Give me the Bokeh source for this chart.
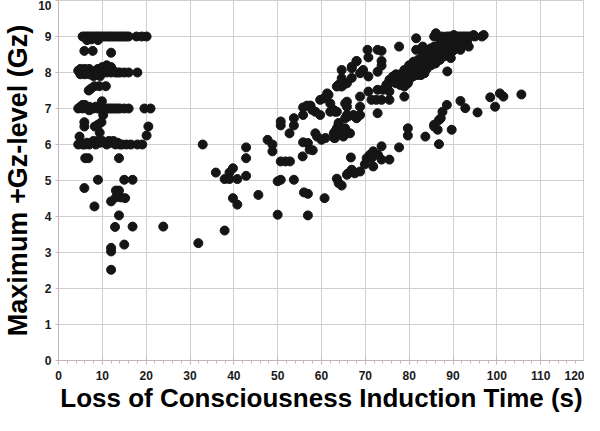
from bokeh.plotting import figure
from bokeh.models import FixedTicker
from bokeh.embed import file_html
from bokeh.resources import INLINE

# ---- data: (induction time s, max Gz level) ----
row_9 = [(5.5, 9), (6, 9), (6.5, 9), (7, 9), (7.5, 9), (8, 9), (8.5, 9), (9, 9), (9.5, 9),
         (10, 9), (10.5, 9), (11, 9), (11.5, 9), (12, 9), (12.5, 9), (13, 9), (13.5, 9),
         (14, 9), (14.5, 9), (15, 9), (15.5, 9), (16, 9), (17.8, 9), (19, 9), (20.1, 9),
         (6.5, 8.9), (7.5, 8.92), (9, 8.9)]
row_8 = [(5.9, 8.6), (7.8, 8.6), (12, 8.55),
         (4.5, 8.05), (5, 8.1), (5.5, 8.0), (6, 7.95), (6.5, 8.0), (7, 8.1), (7.5, 8.0),
         (8, 7.9), (8.5, 8.05), (9, 8.1), (9.5, 7.9), (10, 8.15), (10.5, 8.05), (11, 8.2),
         (11.5, 8.1), (12, 8.15), (12.5, 8.05), (13, 8.0), (13.5, 8.0), (14, 8.0), (15, 8.0),
         (16, 8.0), (18, 8.0), (5, 7.95), (6, 8.1), (9, 8.0), (10, 8.0), (11, 8.0), (12, 8.0),
         (7, 7.95), (6.9, 7.5), (7.4, 7.55), (8.2, 7.62), (9.3, 7.62), (10.8, 7.62), (9.9, 7.2)]
row_7 = [(4.5, 7), (5, 7.05), (5.5, 7), (6, 7.1), (6.5, 7), (7, 7.05), (7.5, 7), (8, 7),
         (8.5, 7.05), (9, 7), (9.5, 7), (10, 7), (10.5, 7), (11, 7), (11.5, 7), (12, 7),
         (12.5, 7), (13, 7), (13.5, 7), (14, 7), (15, 7), (16, 7), (19.6, 7), (21, 7),
         (5.5, 7.1), (7, 6.95),
         (5.9, 6.62), (5.9, 6.5), (8.3, 6.5), (9, 6.55), (9.8, 6.62), (10.2, 6.82),
         (9.4, 6.33), (4.8, 6.22), (20.5, 6.5), (20.1, 6.25)]
row_6 = [(4.5, 6), (5, 6.05), (5.5, 6), (6, 6), (6.5, 6.05), (7, 6), (7.5, 6.05), (8, 6.1),
         (8.5, 6), (9, 6.1), (9.5, 6.05), (10, 6.1), (10.5, 6.05), (11, 6), (11.5, 6.1),
         (12, 6.05), (12.5, 6.1), (13, 6), (13.5, 6.05), (14, 6), (14.5, 6), (15.5, 6),
         (16.5, 6), (18, 6), (19.1, 6.0)]
low_left = [(6.1, 5.62), (6.8, 5.62), (13.8, 5.62), (9, 5.02), (15, 5.02), (16.9, 5.02),
            (5.9, 4.79), (13.1, 4.72), (13.8, 4.72), (12, 4.42), (13.1, 4.53), (14.2, 4.53),
            (15.2, 4.51), (8.2, 4.28), (13.8, 4.03), (12.9, 3.71), (16.9, 3.72), (15, 3.22),
            (12, 3.13), (12, 3.03), (12, 2.52)]
middle = [(23.9, 3.72), (31.9, 3.26), (32.9, 6.0), (35.9, 5.22), (37.9, 5.04), (39, 5.04),
          (39, 5.22), (39.8, 5.34), (40.8, 5.04), (42.8, 5.13), (42.8, 5.62), (42.8, 5.92),
          (37.9, 3.61), (39.8, 4.51), (40.8, 4.33), (45.6, 4.6)]
mid_band = [(47.7, 6.13), (48.8, 6.0), (48.8, 5.81), (50.7, 6.64), (50.7, 6.53), (52.7, 6.31),
            (53.7, 6.73), (53.7, 6.53), (55.8, 6.82), (55.8, 7.03), (56.7, 7.08), (57.5, 7.08),
            (57.9, 6.96), (58.6, 6.91), (59.7, 6.82), (59.7, 7.24), (60.5, 7.28), (61.3, 7.42),
            (61.6, 7.38), (62, 7.14), (62.8, 6.96), (63.5, 6.91), (63.9, 7.66), (65, 7.66),
            (50, 4.98), (50.7, 5.02), (53.7, 5.02), (50.7, 5.53), (51.8, 5.53), (52.8, 5.53),
            (55.7, 5.67), (55.8, 6.06), (56.9, 6.04), (57.3, 5.86), (58, 5.84), (58.6, 6.31),
            (59, 6.22), (60, 6.13), (60.9, 6.18), (62.8, 6.31), (62.9, 6.18), (63.5, 6.45),
            (63.9, 6.55), (64.6, 6.36), (65, 6.22), (65.4, 6.73), (65.4, 6.45), (66.5, 6.31),
            (63.9, 6.6), (63.1, 6.36), (63.1, 6.18), (62, 6.91),
            (50, 4.05), (56.9, 4.03), (56, 4.67), (56.9, 4.63), (60.7, 4.51), (63.5, 5.05),
            (63.9, 4.93), (64.6, 4.86), (66.1, 5.2), (65.8, 5.16)]
upper_left = [(64.6, 8.07), (66.9, 8.16), (68, 8.32), (66.9, 7.85), (69.5, 8.07), (68.8, 7.98),
              (70.7, 8.42), (70.7, 7.89), (72.8, 8.63), (73.7, 8.6), (73.7, 8.32), (73.7, 8.19),
              (72.8, 8.02), (64.6, 7.84), (64.6, 7.61), (63.5, 7.61), (65.8, 7.7), (65.8, 7.19),
              (65.8, 7.05), (65.8, 6.82), (67.3, 6.82), (68, 6.73), (68.8, 6.82), (68.8, 7.05),
              (68.8, 7.33), (65.4, 7.14), (66.1, 6.78), (67.6, 6.78), (63.1, 6.91), (70.7, 7.47),
              (71.4, 7.24), (72.5, 7.24), (73.7, 7.24), (75.5, 7.24), (72.8, 7.52), (74, 7.52),
              (72.8, 6.87), (70.5, 8.63), (77.7, 8.72), (81.6, 8.95), (81.6, 8.63), (83.1, 8.72),
              (85.7, 8.72), (66.9, 8.12), (68, 8.31)]
low_band = [(66.7, 5.64), (69.9, 5.45), (71.8, 5.39), (68.8, 5.25), (67.6, 5.2), (66.9, 5.3),
            (71, 5.71), (71.8, 5.81), (72.9, 5.71), (71.4, 5.62), (70.3, 5.62), (73.7, 5.58),
            (75.5, 5.58), (73.7, 5.95), (77.7, 5.92), (79.7, 6.45), (79.7, 6.25), (83.7, 6.22),
            (85.7, 6.5), (86.5, 6.41), (86.8, 6.68), (89.7, 6.41), (86.8, 6.01), (87.2, 6.73),
            (87.6, 6.91), (88.6, 7.1), (91.7, 7.21), (92.8, 7.01), (95.6, 6.89), (98.5, 7.31),
            (100.7, 7.42), (101.5, 7.33), (99.6, 7.05), (105.6, 7.39), (85.7, 6.55)]
dense_band = [(76.7, 7.84), (77.5, 7.75), (78.2, 7.84), (78.9, 7.9), (78.9, 7.61), (79.7, 8.12),
              (80.2, 8.0), (80.8, 8.21), (78.9, 7.33), (75.2, 7.66), (75.5, 7.8), (75.5, 7.47),
              (74.8, 7.66), (76.3, 7.89), (78.2, 7.75), (78.9, 8.07), (79.7, 7.7), (81.2, 8.21),
              (81.2, 8.16), (82.7, 8.31), (82.7, 7.93), (81.9, 7.93), (83.5, 7.98), (83.5, 8.58),
              (84.9, 8.67), (85.7, 8.49), (87.2, 8.4), (87.9, 8.95), (88.7, 8.77), (88.7, 8.03),
              (89.5, 8.4), (90.2, 9.04), (91.7, 8.67), (91.7, 8.63), (93.2, 8.86), (94.7, 9.04),
              (93.6, 8.72), (86.1, 9.09), (85.7, 9.0), (96.6, 9.0), (79.7, 7.75),
              (77, 7.7), (77, 7.95), (78, 7.65), (78, 7.95), (79, 7.8), (79, 8.05),
              (80, 7.8), (80, 8.0), (80, 8.2), (81, 7.9), (81, 8.05), (81, 8.3),
              (82, 7.95), (82, 8.15), (82, 8.35), (83, 8.05), (83, 8.25), (83, 8.45),
              (84, 8.1), (84, 8.3), (84, 8.5), (85, 8.2), (85, 8.4), (85, 8.6),
              (86, 8.25), (86, 8.5), (86, 8.7), (87, 8.35), (87, 8.55), (87, 8.8),
              (88, 8.45), (88, 8.65), (88, 8.85), (89, 8.55), (89, 8.75), (89, 8.9),
              (90, 8.6), (90, 8.8), (91, 8.7), (91, 8.85), (92, 8.75), (92, 8.9),
              (86.5, 9), (87.5, 9), (88.5, 9), (89, 9), (89.5, 9), (90.5, 9), (91, 9),
              (91.5, 9), (92, 9), (92.5, 9), (93, 9), (93.5, 9), (94, 9), (95, 9), (97, 9.04)]

clusters = [row_9, row_8, row_7, row_6, low_left, middle, mid_band, upper_left, low_band, dense_band]
xs = [pt[0] for c in clusters for pt in c]
ys = [pt[1] for c in clusters for pt in c]

x_major = [0, 10, 20, 30, 40, 50, 60, 70, 80, 90, 100, 110, 120]
x_minor = [v for v in range(0, 121, 2)]
y_major = [0, 1, 2, 3, 4, 5, 6, 7, 8, 9, 10]

GRID = "#d6cdd1"
FONT = "Liberation Sans"

p = figure(width=584, height=415, x_range=(0, 120), y_range=(0, 10),
           output_backend="svg", toolbar_location=None,
           min_border_left=0, min_border_right=0, min_border_top=0, min_border_bottom=0)

p.scatter(xs, ys, size=9, color="#151515")

p.xaxis.ticker = FixedTicker(ticks=x_major, minor_ticks=x_minor)
p.yaxis.ticker = FixedTicker(ticks=y_major)

p.xaxis.axis_label = "Loss of Consciousness Induction Time (s)"
p.yaxis.axis_label = "Maximum +Gz-level (Gz)"
for ax in (p.xaxis, p.yaxis):
    ax.axis_label_text_font = FONT
    ax.axis_label_text_font_style = "bold"
    ax.axis_label_text_color = "#000000"
    ax.major_label_text_font = FONT
    ax.major_label_text_font_style = "bold"
    ax.major_label_text_font_size = "12px"
    ax.major_label_text_color = "#1a1a1a"
    ax.axis_line_color = "#c4b4bb"
    ax.major_tick_line_color = "#c4b4bb"
    ax.minor_tick_line_color = "#c4b4bb"
p.xaxis.axis_label_text_font_size = "26px"
p.yaxis.axis_label_text_font_size = "27px"

p.xaxis.major_tick_in = 4
p.xaxis.major_tick_out = 4
p.xaxis.minor_tick_in = 0
p.xaxis.minor_tick_out = 3
p.xaxis.major_label_standoff = 6
p.xaxis.axis_label_standoff = 0

p.yaxis.major_tick_in = 0
p.yaxis.major_tick_out = 3
p.yaxis.minor_tick_line_color = None
p.yaxis.major_label_standoff = 4
p.yaxis.axis_label_standoff = 2

p.xgrid.grid_line_color = GRID
p.ygrid.grid_line_color = GRID
p.outline_line_color = GRID
p.background_fill_color = "white"
p.border_fill_color = "white"

open("out.html", "w").write(file_html(p, INLINE))
